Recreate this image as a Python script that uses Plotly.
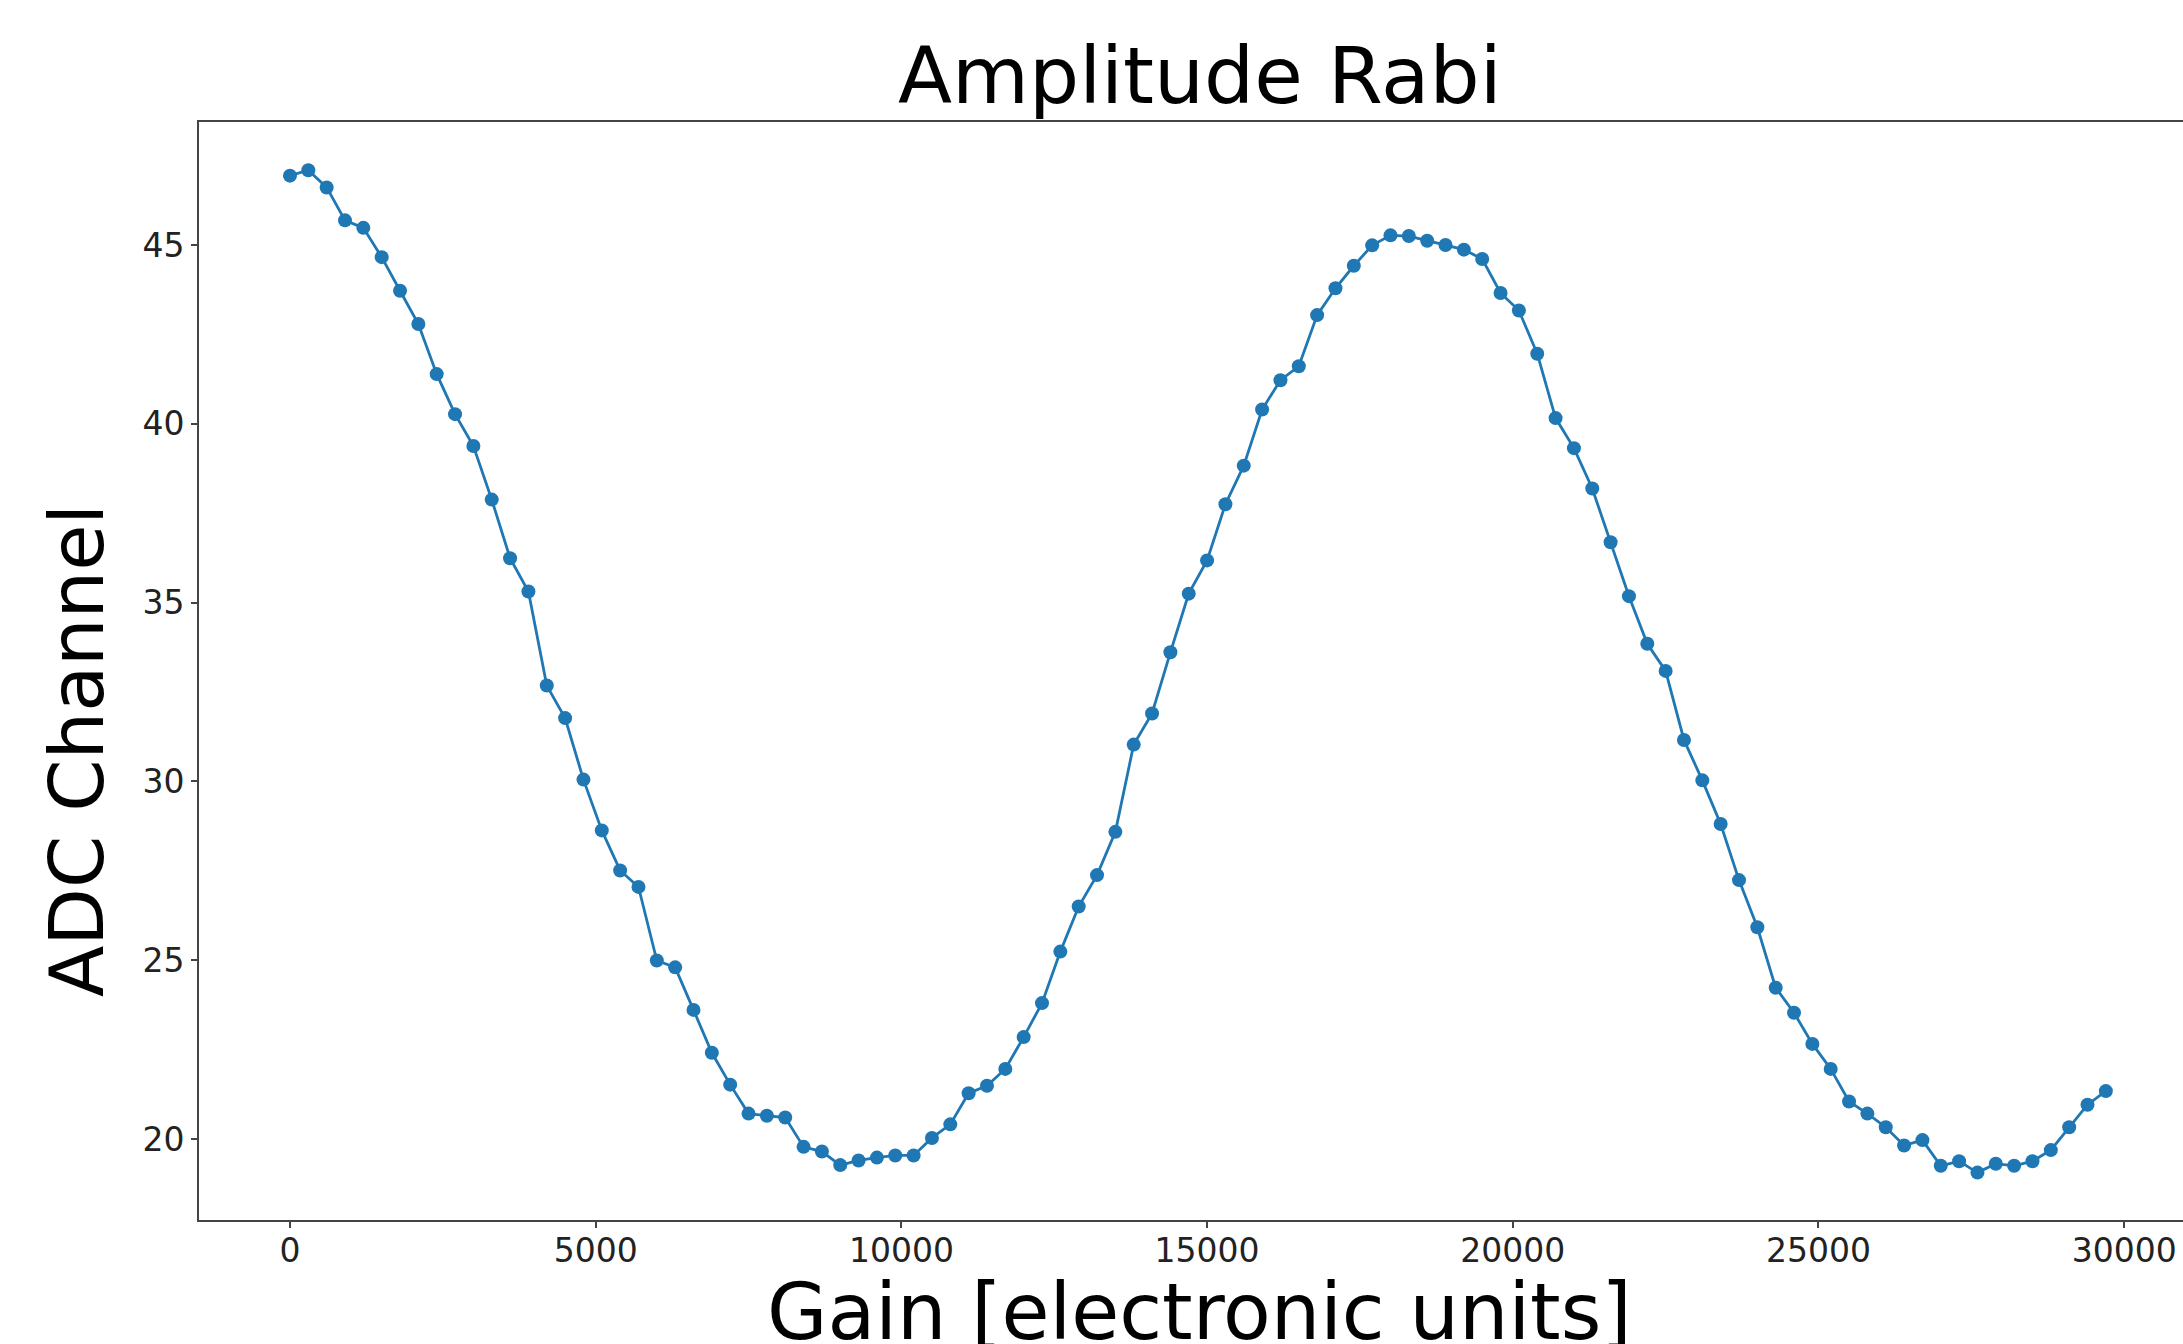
import plotly.graph_objects as go

# Gain values (electronic units): 100 points, 0 .. 29700 in steps of 300
gain = [i * 300 for i in range(100)]

adc = [
    46.94, 47.09, 46.61, 45.69, 45.48, 44.66, 43.72, 42.79, 41.39, 40.27,
    39.38, 37.88, 36.24, 35.31, 32.68, 31.77, 30.05, 28.63, 27.51, 27.05,
    24.99, 24.80, 23.61, 22.41, 21.52, 20.71, 20.65, 20.60,
    19.78, 19.65, 19.27, 19.40, 19.48, 19.54, 19.54, 20.03, 20.41, 21.28,
    21.49, 21.96, 22.85, 23.80, 25.24, 26.50, 27.38, 28.59, 31.03, 31.90,
    33.61, 35.25, 36.18, 37.75, 38.83, 40.40, 41.22,
    41.61, 43.04, 43.79, 44.42, 44.99, 45.27, 45.25, 45.12, 45.00, 44.87,
    44.61, 43.66, 43.17, 41.96, 40.16, 39.32, 38.19, 36.69, 35.18, 33.85,
    33.09, 31.16, 30.03, 28.81, 27.24, 25.92, 24.23,
    23.53, 22.66, 21.96, 21.05, 20.71, 20.33, 19.82, 19.97, 19.25, 19.38,
    19.06, 19.31, 19.25, 19.38, 19.69, 20.33, 20.96, 21.34,
]

x_ticks = [0, 5000, 10000, 15000, 20000, 25000, 30000]
y_ticks = [20, 25, 30, 35, 40, 45]

title_text = "Amplitude Rabi"
x_title = "Gain [electronic units]"
y_title = "ADC Channel"

FONT = "DejaVu Sans"
BLUE = "#1f77b4"

fig = go.Figure()
fig.add_trace(go.Scatter(
    x=gain, y=adc, mode="lines+markers",
    line=dict(color=BLUE, width=2.8),
    marker=dict(color=BLUE, size=14),
    showlegend=False,
))

fig.update_layout(
    width=2183, height=1344,
    margin=dict(l=199, r=0, t=122, b=124),
    paper_bgcolor="white", plot_bgcolor="white",
    font=dict(family=FONT, color="#222222"),
    xaxis=dict(
        range=[-1488, 30962],
        tickvals=x_ticks, ticktext=[str(v) for v in x_ticks],
        ticks="outside", ticklen=6, tickwidth=1.5, tickcolor="#444444",
        ticklabelstandoff=-6,
        showline=True, linecolor="#444444", linewidth=1.8, mirror=True,
        showgrid=False, zeroline=False,
        tickfont=dict(family=FONT, size=33, color="#222222"),
    ),
    yaxis=dict(
        range=[17.735, 48.44],
        tickvals=y_ticks, ticktext=[str(v) for v in y_ticks],
        ticks="outside", ticklen=6, tickwidth=1.5, tickcolor="#444444",
        showline=True, linecolor="#444444", linewidth=1.8, mirror=False,
        showgrid=False, zeroline=False,
        tickfont=dict(family=FONT, size=33, color="#222222"),
    ),
    annotations=[
        dict(text=title_text, xref="paper", yref="paper",
             x=0.5045, y=1, yanchor="bottom", xanchor="center", yshift=-2,
             showarrow=False, font=dict(family=FONT, size=79, color="black")),
        dict(text=x_title, xref="paper", yref="paper",
             x=0.5045, y=0, yanchor="top", xanchor="center", yshift=-45,
             showarrow=False, font=dict(family=FONT, size=78, color="black")),
        dict(text=y_title, xref="paper", yref="paper", textangle=-90,
             x=-0.0615, y=0.428, xanchor="center", yanchor="middle",
             showarrow=False, font=dict(family=FONT, size=75, color="black")),
    ],
)

fig.write_html("out.html")
